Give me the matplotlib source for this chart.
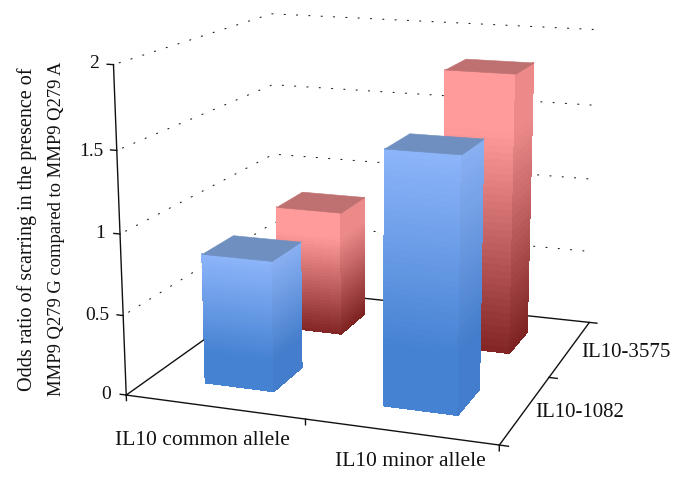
import numpy as np
import matplotlib
matplotlib.use('Agg')
import matplotlib.pyplot as plt
from matplotlib.colors import to_rgb
from matplotlib.transforms import Bbox

W, H = 684, 481
plt.rcParams['font.family'] = ['Liberation Serif', 'DejaVu Serif']

categories = ['IL10 common allele', 'IL10 minor allele']
series_names = ['IL10-1082', 'IL10-3575']
il10_1082 = [0.82, 1.55]
il10_3575 = [0.835, 1.82]
z_ticks = [0, 0.5, 1, 1.5, 2]
z_labels = ['0', '0.5', '1', '1.5', '2']

BAR = 0.197  # half width of a bar, in category units
STRIPS = 40

BLUE = dict(front=([0, 0.25, 1], ['#4682D2', '#4682D2', '#8DB5FA']),
            side=([0, 0.25, 1], ['#447DCB', '#447DCB', '#8AB0F2']),
            top='#6E8FC0')
RED = dict(front=([0, 0.8, 1], ['#822424', '#FF9B9B', '#FF9B9B']),
           side=([0, 0.8, 1], ['#7C2020', '#EC8A8A', '#EC8A8A']),
           top='#BF7070')


def ramp(stops, fracs):
    """Colours at given heights of a bar face."""
    rgb = np.array([to_rgb(c) for c in stops[1]])
    return np.column_stack([np.interp(fracs, stops[0], rgb[:, i]) for i in range(3)])


def draw_face(ax, xs, ys, value, stops, zorder):
    """Draw an upright bar face as strips of a vertical gradient."""
    zs = np.linspace(0, value, STRIPS + 1)
    X = np.column_stack([np.full_like(zs, xs[0]), np.full_like(zs, xs[1])])
    Y = np.column_stack([np.full_like(zs, ys[0]), np.full_like(zs, ys[1])])
    Z = np.column_stack([zs, zs])
    colors = ramp(stops, (zs[:-1] + zs[1:]) / 2 / value)
    ax.plot_surface(X, Y, Z, facecolors=colors[:, None, :], rstride=1, cstride=1,
                    shade=False, linewidth=0, antialiased=False, zorder=zorder)


def draw_bar(ax, xc, yc, value, style, zorder):
    """Draw the three visible faces of a bar."""
    x0, x1, y0, y1 = xc - BAR, xc + BAR, yc - BAR, yc + BAR
    draw_face(ax, (x0, x1), (y0, y0), value, style['front'], zorder)
    draw_face(ax, (x1, x1), (y0, y1), value, style['side'], zorder + 0.1)
    ax.plot_surface(np.array([[x0, x1], [x0, x1]]), np.array([[y0, y0], [y1, y1]]),
                    np.full((2, 2), value), facecolors=np.full((1, 1, 3), to_rgb(style['top'])),
                    shade=False, linewidth=0.4, zorder=zorder + 0.2)


def px_text(fig, x, y, s, size, **kw):
    """Put a text at a pixel position, y counted from the top."""
    return fig.text(x / W, 1 - y / H, s, fontsize=size, color='#111111', **kw)


side = 594.2
fig = plt.figure(figsize=(W / 100, H / 100), dpi=100)
ax = fig.add_axes([67.33 / W, -30.03 / H, side / W, side / H], projection='3d', computed_zorder=False)
ax.set_xlim(0, 2, view_margin=0)
ax.set_ylim(0, 2, view_margin=0)
ax.set_zlim(0, 2, view_margin=0)
ax.view_init(elev=14.197, azim=-70.357, roll=0.002)
ax.set_proj_type('persp', focal_length=0.5175)
ax.set_box_aspect((1.1566, 1.1495, 1))
ax.set_axis_off()

# dotted grid on the two back walls
for z in z_ticks[1:]:
    ax.plot([0, 0, 2], [0.06, 2, 2], [z, z, z], color='#222222', lw=0.8, zorder=1,
            linestyle=(0, (1, 10.1)), dash_capstyle='round')

# box edges and ticks
line = dict(color='#111111', lw=1.0, zorder=1.5)
ax.plot([0, 2, 2, 0, 0], [0, 0, 2, 2, 0], [0, 0, 0, 0, 0], **line)
ax.plot([0, 0], [0, 0], [0, 2], **line)
for z in z_ticks:
    ax.plot([0, -0.035], [0, 0], [z, z], **line)
for x in (0, 1, 2):
    ax.plot([x, x], [0, 0], [0, -0.035], **line)
for y in (0, 1, 2):
    ax.plot([2, 2.045], [y, y], [0, 0], **line)

# bars, back row first
for i in range(2):
    draw_bar(ax, i + 0.505, 1.5, il10_3575[i], RED, 2 + i)
for i in range(2):
    draw_bar(ax, i + 0.505, 0.5, il10_1082[i], BLUE, 4 + i)

# text
for label, xr, yc in zip(z_labels, [111, 109, 105, 103, 99], [395, 316, 234, 151, 64]):
    px_text(fig, xr, yc, label, 14, ha='right', va='center')
px_text(fig, 202, 441, categories[0], 15.5, ha='center', va='center')
t = px_text(fig, 410, 462, categories[1], 15.5, ha='center', va='center')
t.set_clip_box(Bbox([[0, H - 467], [W, H]]))
t.set_clip_on(True)
px_text(fig, 580, 413, series_names[0], 15, ha='center', va='center')
px_text(fig, 626, 353, series_names[1], 15, ha='center', va='center')
px_text(fig, 27, 229, 'Odds ratio of scarring in the presence of', 14.5, rotation=90, ha='center', va='center')
px_text(fig, 57, 229, 'MMP9 Q279 G compared to MMP9 Q279 A', 13.4, rotation=90, ha='center', va='center')

fig.savefig('out.png', dpi=100)
